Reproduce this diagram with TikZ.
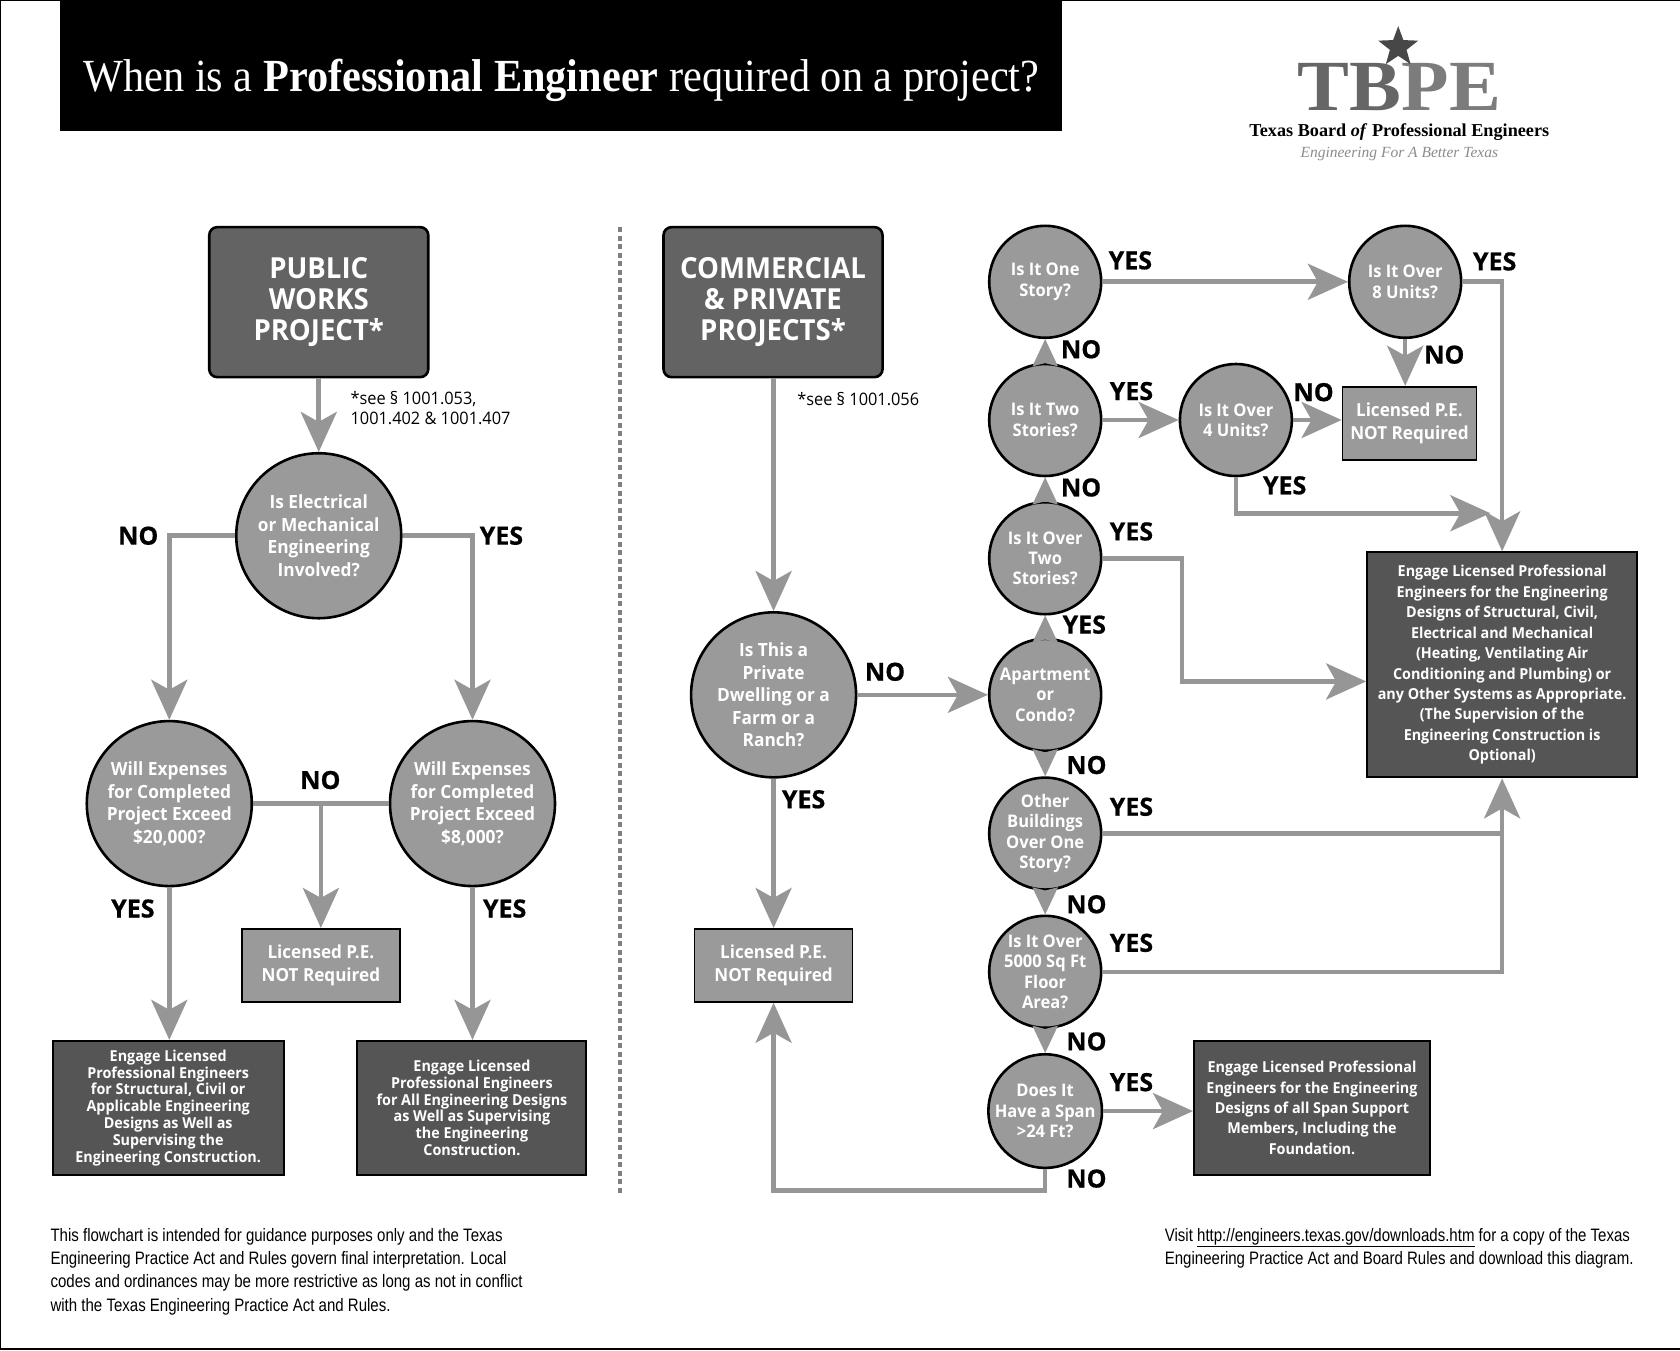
\documentclass[tikz,border=0pt]{standalone}
\usepackage{fontspec}
\usetikzlibrary{arrows.meta,shapes.geometric}
\setmainfont{Liberation Serif}
\newfontfamily\titlefont{Liberation Serif}[FakeStretch=0.92]
\newfontfamily\logofont{Liberation Serif}[FakeStretch=1.08]
\newfontfamily\bodyfont{Open Sans}[FakeStretch=0.95]
\newfontfamily\answerfont{Open Sans}[BoldFeatures={FakeBold=0.6}]
\newfontfamily\finefont{Liberation Sans}[FakeStretch=0.835]
\definecolor{midgrey}{HTML}{9A9A9A}
\definecolor{darkgrey}{HTML}{555555}
\definecolor{headgrey}{HTML}{636363}
\definecolor{shaftgrey}{HTML}{969696}
\definecolor{logoA}{HTML}{666666}
\definecolor{logoB}{HTML}{7C7C7C}
\newcommand{\fs}[2]{\fontsize{#1}{#2}\selectfont}
\tikzset{
  question/.style={circle,draw=black,line width=2.6pt,fill=midgrey,text=white,inner sep=0pt,align=center,font=\bodyfont\bfseries},
  bigq/.style={question,minimum size=165pt,font=\bodyfont\bfseries\fs{18.2}{22.6}},
  smallq/.style={question,minimum size=112pt,font=\bodyfont\bfseries\fs{17.4}{20.4}},
  headbox/.style={draw=black,line width=2.6pt,rounded corners=8pt,fill=headgrey,text=white,align=center,minimum width=219pt,minimum height=150pt,inner sep=0pt,font=\bodyfont\bfseries\fs{29}{31.3}},
  outcome/.style={draw=black,line width=2pt,fill=darkgrey,text=white,align=center,inner sep=0pt,font=\bodyfont\bfseries\fs{15.1}{16.9}},
  exempt/.style={draw=black,line width=1.8pt,fill=midgrey,text=white,align=center,inner sep=0pt,minimum width=158pt,minimum height=73pt,font=\bodyfont\bfseries\fs{18}{22.6}},
  answer/.style={inner sep=0pt,text=black,font=\answerfont\bfseries\fs{25}{25}},
  ref/.style={inner sep=0pt,anchor=north west,align=left,text=black,font=\bodyfont\fs{17.2}{20.4}},
  fine/.style={inner sep=0pt,anchor=north west,align=left,text=black,font=\finefont\fs{18}{23.3}},
  link/.style={draw=shaftgrey,line width=4.6pt},
  flow/.style={link,-{Stealth[length=40pt,width=36pt,inset=10pt]}},
  shortflow/.style={link,line width=3pt,-{Stealth[length=27pt,width=25pt,inset=3pt]}},
}
\begin{document}
\begin{tikzpicture}[x=1.0714pt,y=-1.0714pt]
\useasboundingbox (0,0) rectangle (1568,1260);
\fill[white] (0,0) rectangle (1568,1260);
% page rules on three sides
\draw[line width=2pt] (0,1259) -- (0,0) -- (1568,0);
\draw[line width=2pt] (0,1259) -- (1568,1259);

% title band
\node[fill=black,minimum width=1002pt,minimum height=131pt,inner sep=0pt,anchor=north west] (band) at (56,0) {};
\node[text=white,inner sep=0pt,font=\titlefont\fs{46}{50}] (title) at (524,75) {When is a \textbf{Professional Engineer} required on a project?};

% board logo
\node[inner sep=0pt,anchor=base,font=\logofont\bfseries\fs{72}{72}] (logoword) at (1306,103) {\textcolor{logoA}{TB}\textcolor{logoB}{PE}};
\node[star,star points=5,star point ratio=2.4,fill=logoA!70!black,minimum size=42pt,inner sep=0pt] (logostar) at (1305,44) {};
\node[inner sep=0pt,font=\bfseries\fs{18.2}{20}] (logoname) at (1306,123) {Texas Board \textit{of} Professional Engineers};
\node[inner sep=0pt,text=black!45,font=\itshape\fs{15.5}{16}] (logomotto) at (1306,144) {Engineering For A Better Texas};

% divider between the two columns
\draw[shaftgrey!85!black,line width=4pt,dash pattern=on 5pt off 3.5pt] (579,212) -- (579,1115);

% public works column
\node[headbox] (pub) at (297.5,282) {PUBLIC\\WORKS\\PROJECT*};
\node[ref] (pubref) at (327,365) {*see § 1001.053,\\1001.402 \& 1001.407};
\node[bigq] (elec) at (297.5,500) {Is Electrical\\or Mechanical\\Engineering\\Involved?};
\node[bigq] (over20) at (158,750) {Will Expenses\\for Completed\\Project Exceed\\\$20,000?};
\node[bigq] (over8) at (441,750) {Will Expenses\\for Completed\\Project Exceed\\\$8,000?};
\node[exempt] (exemptA) at (299.5,901) {Licensed P.E.\\NOT Required};
\node[outcome,minimum width=231pt,minimum height=134pt] (engA) at (157,1034) {Engage Licensed\\Professional Engineers\\for Structural, Civil or\\Applicable Engineering\\Designs as Well as\\Supervising the\\Engineering Construction.};
\node[outcome,minimum width=229pt,minimum height=134pt] (engB) at (440.5,1034) {Engage Licensed\\Professional Engineers\\for All Engineering Designs\\as Well as Supervising\\the Engineering\\Construction.};

% commercial and private column
\node[headbox] (com) at (721.5,282) {COMMERCIAL\\\& PRIVATE\\PROJECTS*};
\node[ref] (comref) at (744,366) {*see § 1001.056};
\node[bigq] (farm) at (722,648.5) {Is This a\\Private\\Dwelling or a\\Farm or a\\Ranch?};
\node[exempt] (exemptB) at (722,901) {Licensed P.E.\\NOT Required};

\node[smallq] (one) at (975.5,263) {Is It One\\Story?};
\node[smallq] (two) at (975.5,392) {Is It Two\\Stories?};
\node[smallq] (overtwo) at (975.5,521) {Is It Over\\Two\\Stories?};
\node[smallq] (apt) at (975.5,648.5) {Apartment\\or\\Condo?};
\node[smallq] (other) at (975.5,778) {Other\\Buildings\\Over One\\Story?};
\node[smallq] (sqft) at (975.5,907) {Is It Over\\5000 Sq Ft\\Floor\\Area?};
\node[smallq] (span) at (975.5,1037) {Does It\\Have a Span\\>24 Ft?};
\node[smallq] (units4) at (1153.5,392) {Is It Over\\4 Units?};
\node[smallq] (units8) at (1311.5,263) {Is It Over\\8 Units?};
\node[exempt,minimum width=134pt,minimum height=73pt] (exemptC) at (1315.5,395) {Licensed P.E.\\NOT Required};
\node[outcome,minimum width=270pt,minimum height=225pt,font=\bodyfont\bfseries\fs{15.1}{20.4}] (engC) at (1402,620.5) {Engage Licensed Professional\\Engineers for the Engineering\\Designs of Structural, Civil,\\Electrical and Mechanical\\(Heating, Ventilating Air\\Conditioning and Plumbing) or\\any Other Systems as Appropriate.\\(The Supervision of the\\Engineering Construction is\\Optional)};
\node[outcome,minimum width=236pt,minimum height=134pt,font=\bodyfont\bfseries\fs{15.1}{20.4}] (engD) at (1224.5,1034) {Engage Licensed Professional\\Engineers for the Engineering\\Designs of all Span Support\\Members, Including the\\Foundation.};

% junction points of the connectors
\coordinate (split) at (over20.east -| exemptA.north);
\coordinate (fromfour) at (1391,479);
\coordinate (elbow) at (1103,521);
\coordinate (enginside) at (engC.west |- 0,636);
\coordinate (backturn) at (975.5,1111);

% public works connectors
\draw[flow] (pub) -- (elec);
\draw[flow] (elec.west) -| (over20.north);
\draw[flow] (elec.east) -| (over8.north);
\draw[link] (over20.east) -- (over8.west);
\draw[flow] (split) -- (exemptA.north);
\draw[flow] (over20.south) -- (over20.south |- engA.north);
\draw[flow] (over8.south) -- (over8.south |- engB.north);

% commercial connectors
\draw[flow] (com.south -| farm.north) -- (farm.north);
\draw[flow] (farm.south) -- (exemptB.north);
\draw[flow] (farm.east) -- (apt.west);
\draw[shortflow] (apt.north) -- (overtwo.south);
\draw[shortflow] (overtwo.north) -- (two.south);
\draw[shortflow] (two.north) -- (one.south);
\draw[shortflow] (apt.south) -- (other.north);
\draw[shortflow] (other.south) -- (sqft.north);
\draw[shortflow] (sqft.south) -- (span.north);
\draw[flow] (one.east) -- (units8.west);
\draw[flow] (two.east) -- (units4.west);
\draw[flow] (units4.east) -- (units4.east -| exemptC.west);
\draw[flow] (units8.south) -- (units8.south |- exemptC.north);
\draw[flow] (units4.south) |- (fromfour);
\draw[flow] (units8.east) -| (engC.north);
\draw[flow] (overtwo.east) -- (elbow) |- (enginside);
\draw[link] (other.east) -- (other.east -| engC.south);
\draw[flow] (sqft.east) -| (engC.south);
\draw[flow] (span.east) -- (span.east -| engD.west);
\draw[flow] (span.south) -- (backturn) -| (exemptB.south);

% answer labels
\node[answer] (a1) at (129,500) {NO};
\node[answer] (a2) at (468,500) {YES};
\node[answer] (a3) at (299,728) {NO};
\node[answer] (a4) at (124,848) {YES};
\node[answer] (a5) at (471,848) {YES};
\node[answer] (a6) at (826,627) {NO};
\node[answer] (a7) at (750,746) {YES};
\node[answer] (a8) at (1055,243) {YES};
\node[answer] (a9) at (1009,326) {NO};
\node[answer] (a10) at (1056,365) {YES};
\node[answer] (a11) at (1009,455) {NO};
\node[answer] (a12) at (1056,496) {YES};
\node[answer] (a13) at (1012,583) {YES};
\node[answer] (a14) at (1014,714) {NO};
\node[answer] (a15) at (1056,753) {YES};
\node[answer] (a16) at (1014,844) {NO};
\node[answer] (a17) at (1056,880) {YES};
\node[answer] (a18) at (1014,972) {NO};
\node[answer] (a19) at (1056,1010) {YES};
\node[answer] (a20) at (1014,1100) {NO};
\node[answer] (a21) at (1395,244) {YES};
\node[answer] (a22) at (1348,331) {NO};
\node[answer] (a23) at (1226,366) {NO};
\node[answer] (a24) at (1199,453) {YES};

% footer notes
\node[fine] (noteL) at (47,1146) {This flowchart is intended for guidance purposes only and the Texas\\Engineering Practice Act and Rules govern final interpretation. Local\\codes and ordinances may be more restrictive as long as not in conflict\\with the Texas Engineering Practice Act and Rules.};
\node[fine] (noteR) at (1087,1146) {Visit \underline{http://engineers.texas.gov/downloads.htm} for a copy of the Texas\\Engineering Practice Act and Board Rules and download this diagram.};
\end{tikzpicture}
\end{document}
